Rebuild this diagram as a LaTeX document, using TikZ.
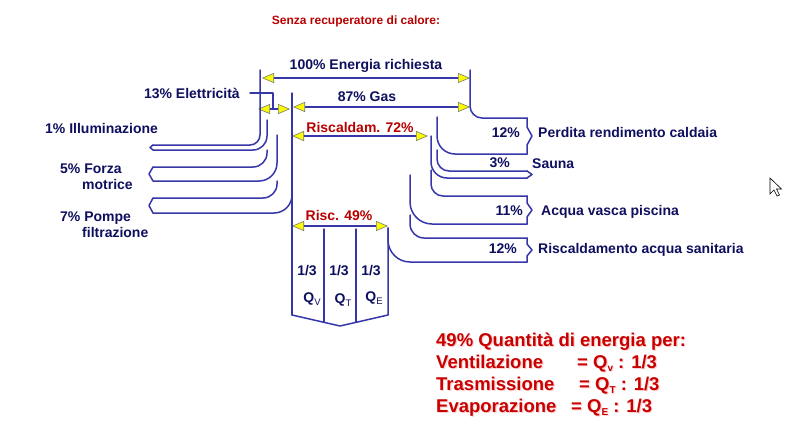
\documentclass[tikz,border=0pt]{standalone}
\usepackage{fontspec}
\setmainfont{Liberation Sans}
\usetikzlibrary{arrows.meta}
\definecolor{flow}{RGB}{55,55,170}
\definecolor{navy}{RGB}{15,15,95}
\definecolor{dred}{RGB}{185,0,0}
\definecolor{bred}{RGB}{200,0,0}
\definecolor{tipfill}{RGB}{250,250,0}
\definecolor{tipedge}{RGB}{120,120,110}
\begin{document}
\begin{tikzpicture}[x=1pt,y=-1pt,
  flowline/.style={draw=flow,line width=1.5pt,line join=round,line cap=round},
  ytip/.tip={Triangle[length=12pt,width=10pt,fill=tipfill,color=tipedge,line width=0.6pt]},
  dimline/.style={draw=flow,line width=1.5pt,ytip-ytip},
  halfdim/.style={draw=flow,line width=1.5pt,-ytip},
  lbl/.style={text=navy,font=\fontsize{14}{16}\selectfont\bfseries,inner sep=0pt},
  rlbl/.style={text=dred,font=\fontsize{14}{16}\selectfont\bfseries,inner sep=0pt},
  titlelbl/.style={text=dred,font=\fontsize{12}{14}\selectfont\bfseries,inner sep=0pt},
  biglbl/.style={text=bred,font=\fontsize{18.5}{22}\selectfont\bfseries,inner sep=0pt,anchor=base west},
  bigshadow/.style={text=red!18,font=\fontsize{18.5}{22}\selectfont\bfseries,inner sep=0pt,anchor=base west},
]
\useasboundingbox[fill=white] (0,0) rectangle (799,428);

% ---------- title ----------
\node[titlelbl,anchor=base] (title) at (356,24.3) {Senza recuperatore di calore:};

% ---------- dimension arrows ----------
\coordinate (tL) at (262,78);  \coordinate (tR) at (470,78);
\coordinate (gL) at (293,107); \coordinate (gR) at (470,107);
\coordinate (eM) at (273,109); \coordinate (eL) at (258,109); \coordinate (eR) at (290,109);
\coordinate (hL) at (292,136); \coordinate (hR) at (428,136);
\coordinate (qL) at (292,226); \coordinate (qR) at (388,226);
\draw[dimline] (tL) -- (tR);
\draw[dimline] (gL) -- (gR);
\draw[halfdim] (eM) -- (eL);
\draw[halfdim] (eM) -- (eR);
\draw[dimline] (hL) -- (hR);
\draw[dimline] (qL) -- (qR);

% ---------- electricity feed ----------
\draw[flowline] (250,93) -- (273,93) -- (eM);

% ---------- left bands (electricity) ----------
\draw[flowline,rounded corners=10] (260,70) -- (260,145) -- (153,145);
\draw[flowline] (153,145) -- (150,147.5) -- (153,150);
\draw[flowline,rounded corners=14] (153,150) -- (267,150) -- (267,120);
\draw[flowline,rounded corners=14] (153,167) -- (267,167) -- (267,150);
\draw[flowline] (153,167) -- (149,174) -- (153,181);
\draw[flowline,rounded corners=18] (153,181) -- (277,181) -- (277,135);
\draw[flowline,rounded corners=14] (153,198) -- (277,198) -- (277,181);
\draw[flowline] (153,198) -- (149,205.5) -- (153,213);
\draw[flowline,rounded corners=18] (153,213) -- (292,213) -- (292,195);
\draw[flowline] (292,93) -- (292,315);

% ---------- right bands (gas) ----------
\draw[flowline,rounded corners=12] (470,70) -- (470,118) -- (527,118);
\draw[flowline] (527,118) -- (527,127) -- (532,136) -- (527,145) -- (527,154);
\draw[flowline,rounded corners=18] (437,117) -- (437,154) -- (527,154);
\draw[flowline,rounded corners=12] (437,150) -- (437,171) -- (527,171);
\draw[flowline] (527,171) -- (532,174.5) -- (527,178);
\draw[flowline,rounded corners=16] (431,136) -- (431,178) -- (527,178);
\draw[flowline,rounded corners=12] (431,170) -- (431,196) -- (527,196);
\draw[flowline] (527,196) -- (527,203) -- (532,210) -- (527,217) -- (527,224);
\draw[flowline,rounded corners=22] (410,175) -- (410,224) -- (527,224);
\draw[flowline,rounded corners=14] (410,215) -- (410,238) -- (527,238);
\draw[flowline] (527,238) -- (527,244) -- (532,250) -- (527,256) -- (527,262);
\draw[flowline,rounded corners=22] (388,228) -- (388,262) -- (527,262);

% ---------- Q box ----------
\draw[flowline] (388,228) -- (388,315) -- (340,326) -- (292,315);
\draw[flowline] (324,229) -- (324,322.3);
\draw[flowline] (356,229) -- (356,322.3);

% ---------- labels ----------
\node[lbl,anchor=base] (l100) at (366,69) {100\% Energia richiesta};
\node[lbl,anchor=base] (lgas) at (367,101) {87\% Gas};
\node[lbl,anchor=base east] (lel) at (240,98) {13\% Elettricità};
\node[lbl,anchor=base west] (lill) at (45,133) {1\% Illuminazione};
\node[lbl,anchor=base west] (lfor) at (60,173) {5\% Forza};
\node[lbl,anchor=base west] (lmot) at (82,189) {motrice};
\node[lbl,anchor=base west] (lpom) at (60,221) {7\% Pompe};
\node[lbl,anchor=base west] (lfil) at (82,237) {filtrazione};
\node[rlbl,anchor=base] (l72) at (360,132) {Riscaldam. 72\%};
\node[rlbl,anchor=base] (l49) at (339,220) {Risc. 49\%};

\node[lbl,anchor=base east] (p1) at (520,137) {12\%};
\node[lbl,anchor=base west] (t1) at (538,137) {Perdita rendimento caldaia};
\node[lbl,anchor=base east] (p2) at (510,167) {3\%};
\node[lbl,anchor=base west] (t2) at (532,168) {Sauna};
\node[lbl,anchor=base east] (p3) at (523,215) {11\%};
\node[lbl,anchor=base west] (t3) at (541,215) {Acqua vasca piscina};
\node[lbl,anchor=base east] (p4) at (517,253) {12\%};
\node[lbl,anchor=base west] (t4) at (538,253) {Riscaldamento acqua sanitaria};

\node[lbl,anchor=base] (f1) at (307,275) {1/3};
\node[lbl,anchor=base] (f2) at (339,275) {1/3};
\node[lbl,anchor=base] (f3) at (371,275) {1/3};
\node[lbl,anchor=base] (q1) at (312,302) {Q{\fontsize{9.5}{10}\selectfont\mdseries\raisebox{-3pt}{V}}};
\node[lbl,anchor=base] (q2) at (343,303) {Q{\fontsize{9.5}{10}\selectfont\mdseries\raisebox{-3pt}{T}}};
\node[lbl,anchor=base] (q3) at (374,301) {Q{\fontsize{9.5}{10}\selectfont\mdseries\raisebox{-3pt}{E}}};

% ---------- big summary text ----------
\foreach \yy/\txt/\xx/\rest in {
  346.5/{49\% Quantità di energia per:}/0/{},
  368.5/{Ventilazione}/577/{= Q{\fontsize{10}{10}\selectfont\raisebox{-3pt}{v}} : 1/3},
  390.5/{Trasmissione}/579/{= Q{\fontsize{10}{10}\selectfont\raisebox{-3pt}{T}} : 1/3},
  412.5/{Evaporazione}/571/{= Q{\fontsize{10}{10}\selectfont\raisebox{-3pt}{E}} : 1/3}}{
  \node[bigshadow] at (437.2,\yy+1.2) {\txt};
  \node[biglbl] at (436,\yy) {\txt};
  \ifnum\xx>0
    \node[bigshadow] at (\xx+1.2,\yy+1.2) {\rest};
    \node[biglbl] at (\xx,\yy) {\rest};
  \fi
}

% ---------- mouse pointer ----------
\draw[black,fill=white,line width=0.6pt,line join=miter]
  (770,178) -- (770,194) -- (774,190) -- (777,196) -- (779.5,195) -- (776.5,189) -- (781.5,189) -- cycle;
\end{tikzpicture}
\end{document}
